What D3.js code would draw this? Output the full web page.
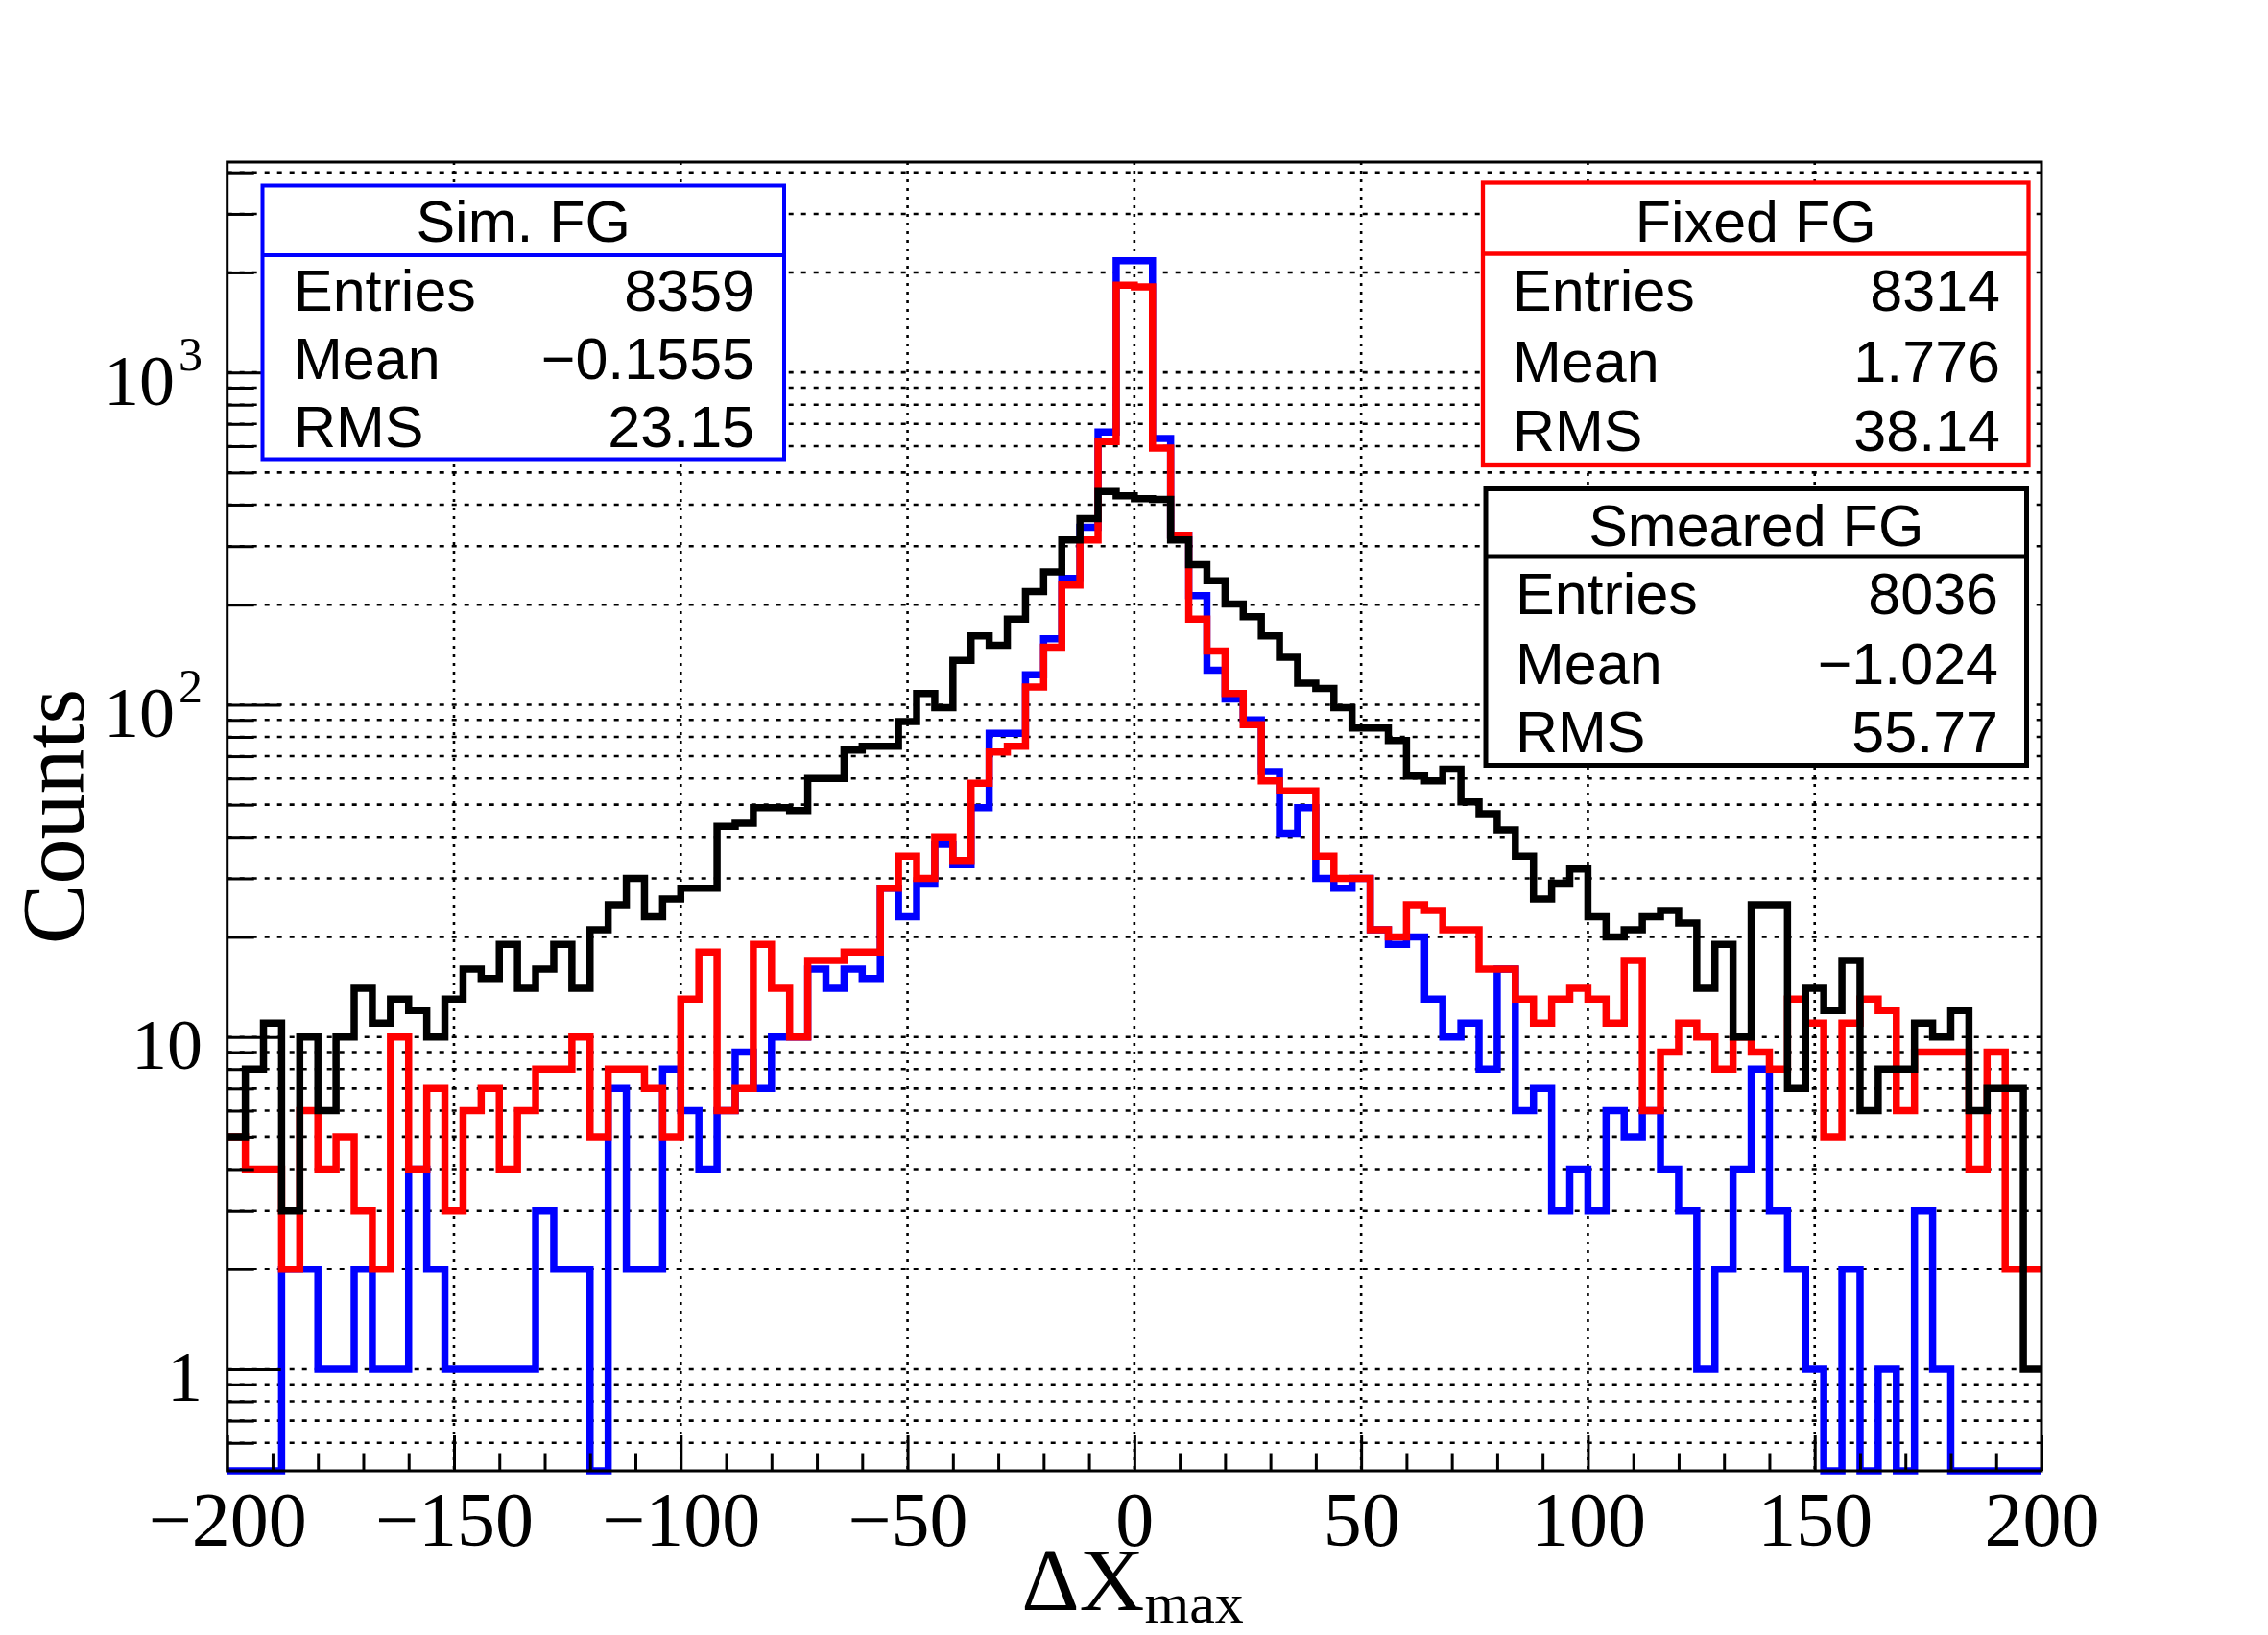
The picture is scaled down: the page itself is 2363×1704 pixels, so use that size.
<!DOCTYPE html>
<html>
<head>
<meta charset="utf-8">
<script src="https://cdn.jsdelivr.net/npm/d3@7"></script>
<style>
  html, body { margin: 0; padding: 0; background: #fff; }
  svg { display: block; }
</style>
</head>
<body>
<script>
// ---------------- DATA ----------------
const xMin = -200, xMax = 200, binWidth = 4;

// Sim. FG (blue)
const simFG = [
  0,0,0,2,2,1,1,2,1,1,
  4,2,1,1,1,1,1,3,2,2,
  0,7,2,2,8,6,4,6,9,7,
  10,10,16,14,16,15,28,23,29,38,
  33,49,82,82,123,158,240,342,662,2170,
  2170,633,324,213,127,104,90,63,41,49,
  30,28,30,21,19,20,13,10,11,8,
  16,6,7,3,4,3,6,5,6,4,
  3,1,2,4,8,3,2,1,0,2,
  0,1,0,3,1,0,0,0,0,0
];
// Fixed FG (red)
const fixedFG = [
  5,4,4,2,6,4,5,3,2,10,
  4,7,3,6,7,4,6,8,8,10,
  5,8,8,7,5,13,18,6,7,19,
  14,10,17,17,18,18,28,35,30,40,
  34,58,72,75,113,149,229,313,619,1830,
  1810,592,324,181,145,108,87,59,55,55,
  35,30,30,21,20,25,24,21,21,16,
  16,13,11,13,14,13,11,17,6,9,
  11,10,8,10,9,8,13,11,5,11,
  13,12,6,9,9,9,4,9,2,2
];
// Smeared FG (black)
const smearedFG = [
  5,8,11,3,10,6,10,14,11,13,
  12,10,13,16,15,19,14,16,19,14,
  21,25,30,23,26,28,28,43,44,49,
  49,48,60,60,73,75,75,89,108,98,
  136,161,151,181,219,251,313,363,438,425,
  417,415,313,264,236,201,184,161,139,116,
  112,98,85,85,78,61,59,64,51,47,
  42,35,26,29,32,23,20,21,23,24,
  22,14,19,10,25,25,7,14,12,17,
  6,8,8,11,10,12,6,7,7,1
];

// stats boxes
const statNames = ["Sim. FG", "Fixed FG", "Smeared FG"];
const statEntries = ["8359", "8314", "8036"];
const statMeans = ["\u22120.1555", "1.776", "\u22121.024"];
const statRMS = ["23.15", "38.14", "55.77"];
const statRowLabels = ["Entries", "Mean", "RMS"];

// ticks
const xMajorTicks = [-200, -150, -100, -50, 0, 50, 100, 150, 200];
const xTickLabels = ["\u2212200", "\u2212150", "\u2212100", "\u221250", "0", "50", "100", "150", "200"];
const xMinorTicks = [-190,-180,-170,-160,-140,-130,-120,-110,-90,-80,-70,-60,-40,-30,-20,-10,
                     10,20,30,40,60,70,80,90,110,120,130,140,160,170,180,190];
const yMajorTicks = [1, 10, 100, 1000];
const yTickBase = ["1", "10", "10", "10"];
const yTickExp = ["", "", "2", "3"];
const yMinorTicks = [0.6,0.7,0.8,0.9, 2,3,4,5,6,7,8,9, 20,30,40,50,60,70,80,90,
                     200,300,400,500,600,700,800,900, 2000,3000,4000];
const yGridValues = yMajorTicks.concat(yMinorTicks);

// ---------------- LAYOUT ----------------
const W = 2363, H = 1704;
const fr = { left: 236.7, right: 2127, top: 169, bottom: 1533 };
const yMin = 0.494, yMax = 4295;
const serif = "'Liberation Serif', 'Times New Roman', serif";
const sans = "'Liberation Sans', Arial, Helvetica, sans-serif";

const x = d3.scaleLinear().domain([xMin, xMax]).range([fr.left, fr.right]);
const y = d3.scaleLog().domain([yMin, yMax]).range([fr.bottom, fr.top]);

const svg = d3.select("body").append("svg").attr("width", W).attr("height", H);
svg.append("rect").attr("width", W).attr("height", H).attr("fill", "#fff");

// ---------------- GRID ----------------
const grid = svg.append("g");
grid.selectAll("line.gx").data(xMajorTicks.filter(d => d > xMin && d < xMax)).enter()
  .append("line")
  .attr("x1", d => x(d)).attr("x2", d => x(d))
  .attr("y1", fr.top).attr("y2", fr.bottom)
  .attr("stroke", "#000").attr("stroke-width", 2.6).attr("stroke-dasharray", "3,6");
grid.selectAll("line.gy").data(yGridValues).enter()
  .append("line")
  .attr("x1", fr.left).attr("x2", fr.right)
  .attr("y1", d => y(d)).attr("y2", d => y(d))
  .attr("stroke", "#000").attr("stroke-width", 2.6).attr("stroke-dasharray", "5,8");

// ---------------- HISTOGRAMS ----------------
function stepPoints(vals) {
  const pts = vals.map((v, i) => [xMin + i * binWidth, v]);
  pts.push([xMax, vals[vals.length - 1]]);
  return pts;
}
const stepLine = d3.line()
  .x(d => x(d[0]))
  .y(d => y(Math.max(d[1], yMin)))
  .curve(d3.curveStepAfter);

const series = [
  { vals: simFG, color: "#0000ff" },
  { vals: fixedFG, color: "#ff0000" },
  { vals: smearedFG, color: "#000000" }
];
svg.append("g").selectAll("path").data(series).enter()
  .append("path")
  .attr("d", d => stepLine(stepPoints(d.vals)))
  .attr("fill", "none")
  .attr("stroke", d => d.color)
  .attr("stroke-width", 7.5)
  .attr("stroke-linejoin", "miter")
  .attr("stroke-linecap", "butt");

// ---------------- FRAME ----------------
svg.append("rect")
  .attr("x", fr.left).attr("y", fr.top)
  .attr("width", fr.right - fr.left).attr("height", fr.bottom - fr.top)
  .attr("fill", "none").attr("stroke", "#000").attr("stroke-width", 3);

// ---------------- AXES ----------------
const xAxisMajor = d3.axisBottom(x).tickValues(xMajorTicks)
  .tickSizeInner(-37).tickSizeOuter(0)
  .tickFormat((d, i) => xTickLabels[i]);
const gx = svg.append("g").attr("transform", `translate(0,${fr.bottom})`).call(xAxisMajor);
gx.select(".domain").remove();
gx.selectAll(".tick line").attr("stroke", "#000").attr("stroke-width", 3);
gx.selectAll(".tick text")
  .attr("y", 78).attr("dy", 0)
  .attr("fill", "#000")
  .style("font-family", serif).style("font-size", "80px");

const xAxisMinor = d3.axisBottom(x).tickValues(xMinorTicks)
  .tickSizeInner(-18.5).tickSizeOuter(0).tickFormat("");
const gxm = svg.append("g").attr("transform", `translate(0,${fr.bottom})`).call(xAxisMinor);
gxm.select(".domain").remove();
gxm.selectAll(".tick line").attr("stroke", "#000").attr("stroke-width", 3);

const yAxisMajor = d3.axisLeft(y).tickValues(yMajorTicks)
  .tickSizeInner(-56).tickSizeOuter(0).tickFormat("");
const gy = svg.append("g").attr("transform", `translate(${fr.left},0)`).call(yAxisMajor);
gy.select(".domain").remove();
gy.selectAll(".tick line").attr("stroke", "#000").attr("stroke-width", 3);
gy.selectAll(".tick text").remove();
gy.selectAll(".tick").each(function(d, i) {
  const t = d3.select(this).append("text")
    .attr("x", 211 - fr.left).attr("y", 33)
    .attr("text-anchor", "end").attr("fill", "#000")
    .style("font-family", serif).style("font-size", "74px");
  t.append("tspan").text(yTickBase[i]);
  if (yTickExp[i]) {
    t.append("tspan").attr("dy", -36).attr("dx", 4)
      .style("font-size", "50px").text(yTickExp[i]);
  }
});

const yAxisMinor = d3.axisLeft(y).tickValues(yMinorTicks)
  .tickSizeInner(-28).tickSizeOuter(0).tickFormat("");
const gym = svg.append("g").attr("transform", `translate(${fr.left},0)`).call(yAxisMinor);
gym.select(".domain").remove();
gym.selectAll(".tick line").attr("stroke", "#000").attr("stroke-width", 3);

// ---------------- AXIS TITLES ----------------
const xt = svg.append("text")
  .attr("x", 1180).attr("y", 1678)
  .attr("text-anchor", "middle").attr("fill", "#000")
  .style("font-family", serif).style("font-size", "94px");
xt.append("tspan").text("\u0394X");
xt.append("tspan").attr("dy", 13).style("font-size", "60px").text("max");

svg.append("text")
  .attr("transform", `translate(87,${(fr.top + fr.bottom) / 2}) rotate(-90)`)
  .attr("text-anchor", "middle").attr("fill", "#000")
  .style("font-family", serif).style("font-size", "94px")
  .text("Counts");

// ---------------- STATS BOXES ----------------
const boxes = [
  { x0: 273.5, x1: 817, y0: 193.5, y1: 478.5, hdr: 266, tb: 252, rows: [324, 395, 466], lx: 306, rx: 786, color: "#0000ff", sw: 4 },
  { x0: 1545, x1: 2113.5, y0: 190.5, y1: 485, hdr: 264.5, tb: 252, rows: [323.6, 397.7, 470], lx: 1576, rx: 2084, color: "#ff0000", sw: 4.3 },
  { x0: 1548, x1: 2111.5, y0: 509.5, y1: 797.5, hdr: 580, tb: 569, rows: [640, 712.6, 784], lx: 1579, rx: 2082, color: "#000000", sw: 5 }
];
boxes.forEach((b, i) => {
  const g = svg.append("g");
  g.append("rect")
    .attr("x", b.x0).attr("y", b.y0)
    .attr("width", b.x1 - b.x0).attr("height", b.y1 - b.y0)
    .attr("fill", "#fff").attr("stroke", b.color).attr("stroke-width", b.sw);
  g.append("line")
    .attr("x1", b.x0).attr("x2", b.x1).attr("y1", b.hdr).attr("y2", b.hdr)
    .attr("stroke", b.color).attr("stroke-width", b.sw);
  g.append("text")
    .attr("x", (b.x0 + b.x1) / 2).attr("y", b.tb)
    .attr("text-anchor", "middle").attr("fill", "#000")
    .style("font-family", sans).style("font-size", "61px")
    .text(statNames[i]);
  const vals = [statEntries[i], statMeans[i], statRMS[i]];
  statRowLabels.forEach((lab, r) => {
    g.append("text")
      .attr("x", b.lx).attr("y", b.rows[r])
      .attr("fill", "#000")
      .style("font-family", sans).style("font-size", "61px")
      .text(lab);
    g.append("text")
      .attr("x", b.rx).attr("y", b.rows[r])
      .attr("text-anchor", "end").attr("fill", "#000")
      .style("font-family", sans).style("font-size", "61px")
      .text(vals[r]);
  });
});
</script>
</body>
</html>
